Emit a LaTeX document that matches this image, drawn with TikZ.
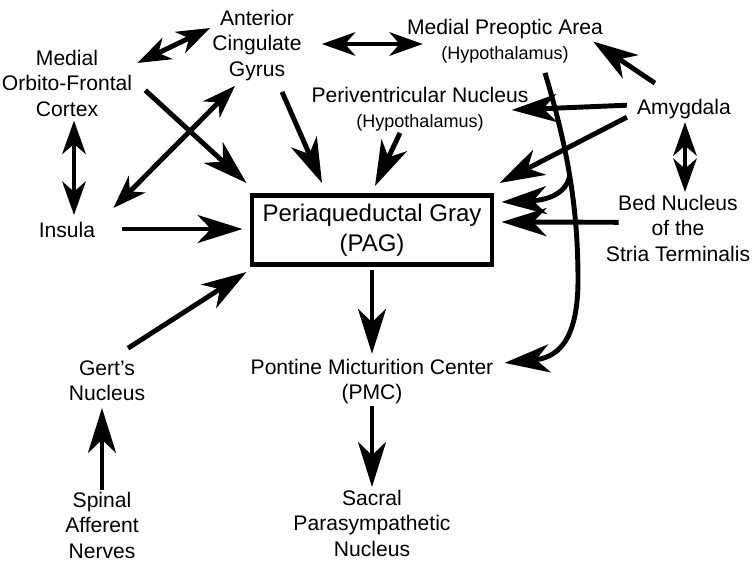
\documentclass[tikz,border=0pt]{standalone}
\usepackage{fontspec}
\setmainfont{Liberation Sans}
\usetikzlibrary{arrows.meta, calc}
\newcommand{\subnote}[1]{{\fontsize{15.4}{18}\selectfont #1}}
\tikzset{
	region/.style ={align=center, inner sep=0pt, font=\fontsize{18}{21.6}\selectfont},
	hub/.style    ={rectangle, draw=black, line width=4.2pt, minimum width=7.2cm, minimum height=2.07cm, align=center, inner sep=0pt, font=\fontsize{20.5}{25.6}\selectfont},
	link/.style   ={-{Stealth[length=13.5mm, width=8.4mm, inset=4mm]}, line width=4.2pt},
	% two-way connections have smaller heads
	dlink/.style  ={{Stealth[length=10mm, width=7mm, inset=3mm]}-{Stealth[length=10mm, width=7mm, inset=3mm]}, line width=4.2pt},
}

\begin{document}
\begin{tikzpicture}[x=0.03cm, y=-0.03cm]
	\useasboundingbox (0,0) rectangle (752,561);
	\node[region] (mofc)   at (67,83.3)   {Medial\\Orbito-Frontal\\Cortex};
	\node[region] (acg)    at (257,45.5)  {Anterior\\Cingulate\\Gyrus};
	\node[region] (mpoa)   at (505,41.5)  {Medial Preoptic Area\\\subnote{(Hypothalamus)}};
	\node[region] (pvn)    at (420,109.5) {Periventricular Nucleus\\\subnote{(Hypothalamus)}};
	\node[region] (amy)    at (684,109.2) {Amygdala};
	\node[region] (insula) at (67,230)    {Insula};
	\node[hub]    (pag)    at (372,230)   {Periaqueductal Gray\\(PAG)};
	\node[region] (bnst)   at (678,228.3) {Bed Nucleus\\of the\\Stria Terminalis};
	\node[region] (gert)   at (107,380.6) {Gert’s\\Nucleus};
	\node[region] (pmc)    at (372,381.6) {Pontine Micturition Center\\(PMC)};
	\node[region] (spinal) at (102,525.3) {Spinal\\Afferent\\Nerves};
	\node[region] (sacral) at (372,523.3) {Sacral\\Parasympathetic\\Nucleus};

	\draw[dlink] ([shift={(5,13)}]mofc.north east) -- ([shift={(-2,-17.5)}]acg.west);
	\draw[link]  ([shift={(13,7)}]mofc.east) -- ([shift={(-3,-10)}]pag.north west);
	\draw[dlink] ([shift={(18,-14)}]insula.north east) -- ([shift={(-22,5)}]acg.south);
	\draw[dlink] ([shift={(7,4)}]mofc.south) -- ([shift={(7,-7)}]insula.north);
	\draw[link]  ([shift={(27,-1)}]insula.east) -- ([shift={(-7,-1)}]pag.west);
	\draw[link]  ([shift={(25,11)}]acg.south) -- ([shift={(-50,-10)}]pag.north);
	\draw[dlink] ([shift={(20,-1.5)}]acg.east) -- ([shift={(16,2.5)}]mpoa.west);
	\draw[link]  ([shift={(-20,1)}]pvn.south) -- ([shift={(3,-7)}]pag.north);
	\draw[link]  ([shift={(18,-16)}]amy.north west) -- ([shift={(-10,0)}]mpoa.east);
	\draw[link]  ([shift={(-10,-4)}]amy.west) -- ([shift={(-17,0.5)}]pvn.east);
	\draw[link]  ([shift={(-10,8)}]amy.west) -- ([shift={(5,-10)}]pag.north east);
	\draw[link]  ([shift={(40,9)}]mpoa.south)
		.. controls +(20,67) and +(0,-80) .. coordinate[pos=0.52] (fork) ++(33,207)
		.. controls +(0,65) and +(50,-5) .. ([shift={(11,4)}]pmc.north east);
	\draw[link]  (fork) .. controls +(-3,17) and +(48,-2) .. ([shift={(7,9)}]pag.north east);
	\draw[link]  ([shift={(13,-6)}]bnst.west) -- ([shift={(7,-8)}]pag.east);
	\draw[dlink] ([shift={(1,3)}]amy.south) -- ([shift={(7,-3)}]bnst.north);
	\draw[link]  ([shift={(21,-12)}]gert.north) -- ([shift={(-3,5)}]pag.south west);
	\draw[link]  ([shift={(0,-2)}]spinal.north) -- ([shift={(-5,7)}]gert.south);
	\draw[link]  ([shift={(0,3)}]pag.south) -- ([shift={(0,-5)}]pmc.north);
	\draw[link]  ([shift={(0,2)}]pmc.south) -- ([shift={(0,-3)}]sacral.north);
\end{tikzpicture}
\end{document}
